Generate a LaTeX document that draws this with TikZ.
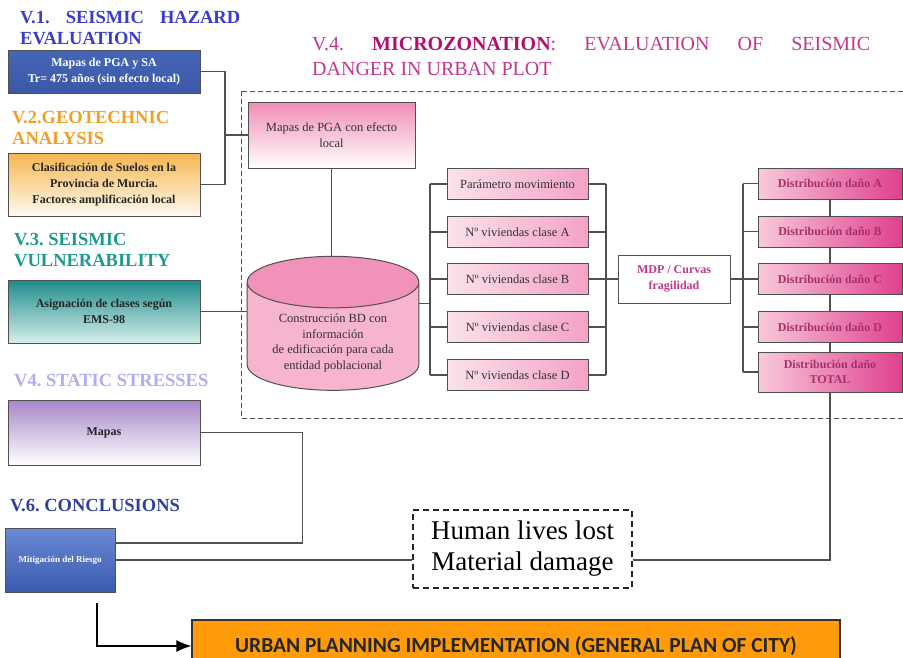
\documentclass[tikz,border=0pt]{standalone}
\usepackage{fontspec}
\setmainfont{Liberation Serif}
\newfontfamily\plansans{Carlito}
\usetikzlibrary{shapes.geometric,arrows.meta,positioning,calc}
\definecolor{edge}{HTML}{505050}
\definecolor{hzBlue}{HTML}{3C3CCC}
\definecolor{geoOrange}{HTML}{F0A028}
\definecolor{vulTeal}{HTML}{1E9A8C}
\definecolor{staLav}{HTML}{B0AEEE}
\definecolor{conBlue}{HTML}{30409C}
\definecolor{mzPink}{HTML}{C2388A}
\definecolor{mzDeep}{HTML}{B0106E}
\definecolor{hzTop}{HTML}{4666B8}
\definecolor{hzBot}{HTML}{3A58A6}
\definecolor{geoTop}{HTML}{F6B650}
\definecolor{geoBot}{HTML}{FFFAF0}
\definecolor{vulTop}{HTML}{1F8C8C}
\definecolor{vulBot}{HTML}{D6EFEA}
\definecolor{staTop}{HTML}{A886C8}
\definecolor{mitTop}{HTML}{6A8AD6}
\definecolor{mitBot}{HTML}{3A5AAE}
\definecolor{pgaTop}{HTML}{F08CB6}
\definecolor{clsL}{HTML}{FBE2EC}
\definecolor{clsR}{HTML}{F4A2C6}
\definecolor{dmgL}{HTML}{F8CADC}
\definecolor{dmgR}{HTML}{E0408E}
\definecolor{dmgText}{HTML}{A8306A}
\definecolor{cylBody}{HTML}{F6B4CE}
\definecolor{cylEnd}{HTML}{F092BA}
\definecolor{planOrange}{HTML}{FF9A0A}
\tikzstyle{title} = [anchor=north west,inner sep=0pt,align=left,font=\fontsize{18.5}{21}\selectfont\bfseries]
\tikzstyle{secbox} = [draw=edge,line width=1pt,minimum width=192pt,align=center,font=\fontsize{12}{16}\selectfont\bfseries]
\tikzstyle{pinkbox} = [draw=edge,line width=1pt,align=center,text=black!80,font=\fontsize{12.5}{15.5}\selectfont]
\tikzstyle{classbox} = [pinkbox,minimum width=141pt,minimum height=31pt,left color=clsL,right color=clsR]
\tikzstyle{dmgbox} = [draw=edge,line width=1pt,minimum width=144pt,minimum height=31pt,left color=dmgL,right color=dmgR,align=center,text=dmgText,font=\fontsize{12}{14.5}\selectfont\bfseries]
\tikzstyle{wire} = [draw=edge,line width=1.1pt]
\tikzset{>=latex}
\frenchspacing
\begin{document}
\begin{tikzpicture}[x=1pt,y=-1pt]
  \useasboundingbox (0,0) rectangle (903,657);
  % section titles
  \node [title,text=hzBlue] (t1) at (20,11) {\makebox[220pt][s]{V.1. SEISMIC HAZARD}\\EVALUATION};
  \node [title,text=geoOrange] (t2) at (12,111) {V.2.GEOTECHNIC\\ANALYSIS};
  \node [title,text=vulTeal] (t3) at (14,233) {V.3. SEISMIC\\VULNERABILITY};
  \node [title,text=staLav] (t4) at (14,374) {V4. STATIC STRESSES};
  \node [title,text=conBlue] (t6) at (10,499) {V.6. CONCLUSIONS};
  \node [anchor=north west,inner sep=0pt,align=left,text=mzPink,font=\fontsize{20}{25}\selectfont] (t5) at (312,37)
    {\makebox[558pt][s]{V.4. \textbf{\color{mzDeep}MICROZONATION}: EVALUATION OF SEISMIC}\\DANGER IN URBAN PLOT};
  % microzonation area
  \draw [edge,line width=0.9pt,dash pattern=on 5pt off 3pt] (241,91) rectangle (925,418);
  % left column
  \node [secbox,minimum height=43pt,top color=hzTop,bottom color=hzBot,text=white] (hz) at (104,71.5)
    {Mapas de PGA y SA\\Tr= 475 años (sin efecto local)};
  \node [secbox,minimum height=63pt,top color=geoTop,bottom color=geoBot,text=black!85] (geo) at (104,184.5)
    {Clasificación de Suelos en la\\Provincia de Murcia.\\Factores amplificación local};
  \node [secbox,minimum height=63pt,top color=vulTop,bottom color=vulBot,text=black!85] (vul) at (104,311.5)
    {Asignación de clases según\\EMS-98};
  \node [secbox,minimum height=65pt,top color=staTop,bottom color=white,text=black!85] (sta) at (104,432.5) {Mapas};
  \node [secbox,minimum width=110pt,minimum height=64pt,top color=mitTop,bottom color=mitBot,text=white,
    font=\fontsize{9}{11}\selectfont\bfseries] (miti) at (60,560) {Mitigación del Riesgo};
  % microzonation chain
  \node [pinkbox,minimum width=167pt,minimum height=66pt,top color=pgaTop,bottom color=white] (pga) at (331.5,135)
    {Mapas de PGA con efecto\\local};
  \node [cylinder,shape border rotate=90,aspect=0.3,draw=edge,line width=1pt,minimum width=170pt,minimum height=134pt,
    cylinder uses custom fill,cylinder body fill=cylBody,cylinder end fill=cylEnd,text=black!80,
    font=\fontsize{12.5}{15.5}\selectfont] (bd) at (333,340)
    {\raisebox{-6pt}[0pt][0pt]{\parbox{165pt}{\centering Construcción BD con\\información\\de edificación para cada\\entidad poblacional}}};
  \foreach \n/\y/\t in {p0/184/Parámetro movimiento,pA/232/Nº viviendas clase A,pB/279/Nº viviendas clase B,
    pC/327/Nº viviendas clase C,pD/375/Nº viviendas clase D}
    \node [classbox] (\n) at (517.5,\y) {\t};
  \node [draw=edge,line width=1pt,fill=white,minimum width=112pt,minimum height=48pt,align=center,text=mzPink,
    font=\fontsize{12}{16}\selectfont\bfseries] (mdp) at (674,279) {MDP / Curvas\\fragilidad};
  \foreach \n/\y/\t in {dA/183.5/A,dB/231.5/B,dC/279/C,dD/327/D}
    \node [dmgbox] (\n) at (830,\y) {Distribución daño \t};
  \node [dmgbox,minimum height=40pt] (dT) at (830,372) {Distribución daño\\TOTAL};
  % results
  \node [draw=black!85,line width=2pt,dash pattern=on 6pt off 4pt,minimum width=219pt,minimum height=78pt,
    align=center,font=\fontsize{27}{31}\selectfont] (loss) at (522.5,549) {Human lives lost\\Material damage};
  \node [draw=black!80,line width=1.2pt,fill=planOrange,minimum width=648pt,minimum height=52pt,text=black!85,
    font=\plansans\bfseries\fontsize{21.5}{24}\selectfont] (plan) at (516,646)
    {URBAN PLANNING IMPLEMENTATION (GENERAL PLAN OF CITY)};
  % connectors
  \coordinate (jL) at (225,135);
  \coordinate (busL) at (430,184);
  \coordinate (busR) at (606,184);
  \coordinate (busD) at (743,184);
  \draw [wire] (hz.east) -| (jL) |- (geo.east);
  \draw [wire] (jL) -- (pga.west);
  \draw [wire] (pga.south) -- (pga.south |- bd.north);
  \draw [wire] (vul.east) -- (vul.east -| bd.west);
  \draw [wire] (bd.23) -- (bd.23 -| busL);
  \draw [wire] (p0.west -| busL) -- (pD.west -| busL);
  \draw [wire] (p0.east -| busR) -- (pD.east -| busR);
  \foreach \n in {p0,pA,pB,pC,pD} {
    \draw [wire] (\n.west) -- (\n.west -| busL);
    \draw [wire] (\n.east) -- (\n.east -| busR);
  }
  \draw [wire] (pB.east -| busR) -- (mdp.west);
  \draw [wire] (mdp.east) -- (mdp.east -| busD);
  \draw [wire] (dA.west -| busD) -- (dT.west -| busD);
  \foreach \n in {dA,dB,dC,dD,dT}
    \draw [wire] (\n.west) -- (\n.west -| busD);
  \draw [wire] (dA.south) -- (dB.north);
  \draw [wire] (dB.south) -- (dC.north);
  \draw [wire] (dC.south) -- (dD.north);
  \draw [wire] (dD.south) -- (dT.north);
  \draw [wire] (dT.south) |- (miti.east -| loss.east);
  \draw [wire] (miti.east) -- (miti.east -| loss.west);
  \draw [wire] (sta.east) -- ++(102,0) |- (miti.17);
  \draw [black,line width=1.3pt,-{Latex[length=15pt,width=12pt]}] ($(miti.south)+(37,10)$) |- (plan.west);
\end{tikzpicture}
\end{document}
